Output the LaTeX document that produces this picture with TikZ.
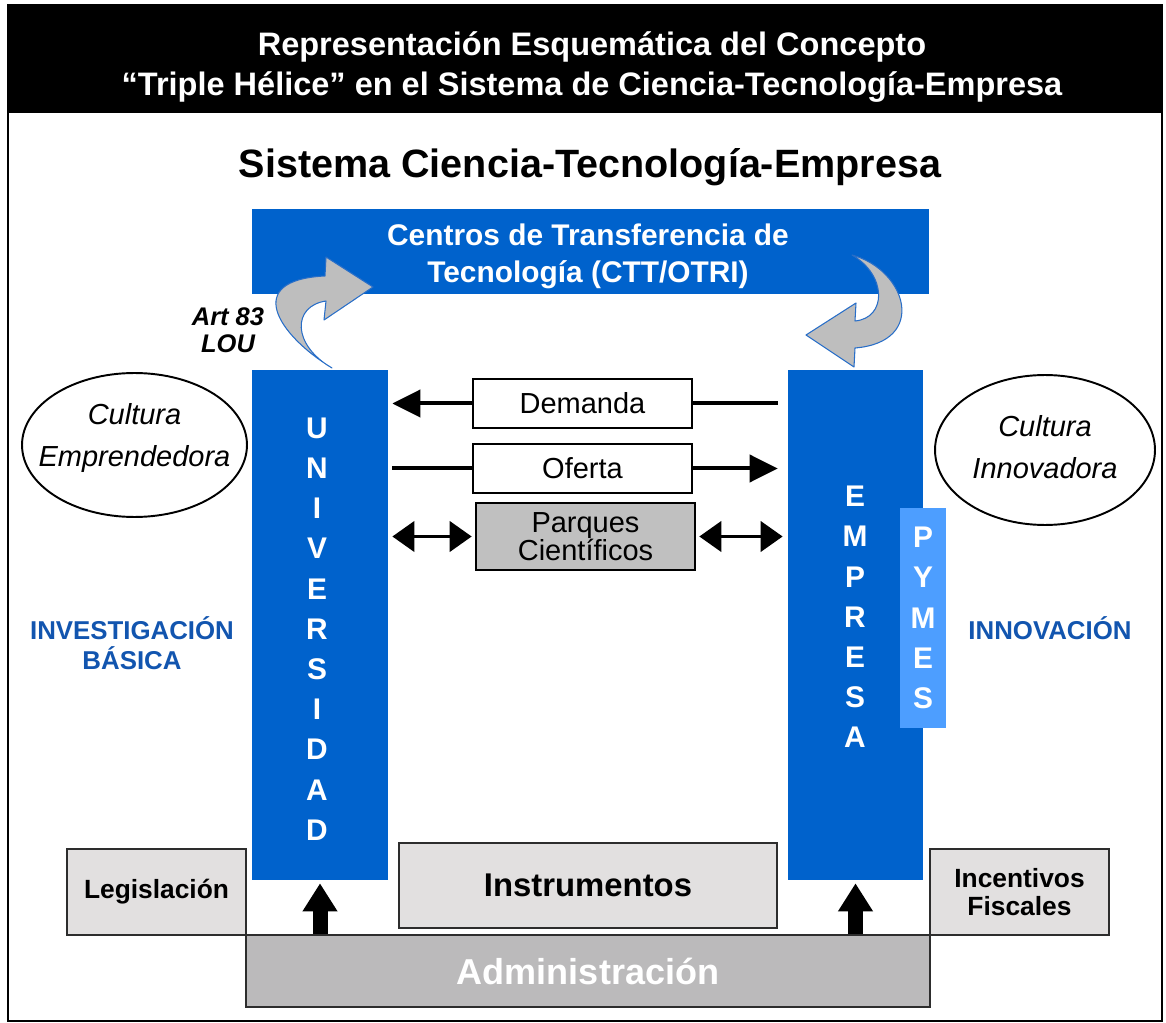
\documentclass[tikz,border=0pt]{standalone}
\usepackage{fontspec}
\setmainfont{Liberation Sans}
\usepackage{xcolor}
\usetikzlibrary{arrows.meta}
\definecolor{ctblue}{RGB}{0,98,204}
\definecolor{pymeblue}{RGB}{77,158,255}
\definecolor{labelblue}{RGB}{18,85,175}
\definecolor{boxgray}{RGB}{226,224,224}
\definecolor{admgray}{RGB}{187,186,187}
\definecolor{parkgray}{RGB}{192,192,192}
\definecolor{bordergray}{RGB}{45,45,45}
\definecolor{curlgray}{RGB}{190,190,190}
\definecolor{curlline}{RGB}{40,110,200}

\begin{document}
\begin{tikzpicture}[x=0.02cm, y=-0.02cm,
  bluebar/.style={fill=ctblue, draw=none, inner sep=0pt},
  vletters/.style={text=white, align=center, inner sep=0pt, font=\fontsize{17}{22.9}\selectfont\bfseries},
  culture/.style={align=center, inner sep=0pt, font=\fontsize{16.5}{23.8}\selectfont\itshape},
  oval/.style={line width=1.1pt},
  sidelabel/.style={text=labelblue, align=center, font=\fontsize{14.7}{17}\selectfont\bfseries},
  flowbox/.style={draw, line width=1.5pt, minimum width=4.38cm, inner sep=0pt, align=center, font=\fontsize{16.5}{16}\selectfont},
  flowline/.style={line width=0.08cm},
  headtip/.style={-{Triangle[length=0.56cm,width=0.54cm]}},
  bothtip/.style={{Triangle[length=0.44cm,width=0.6cm]}-{Triangle[length=0.44cm,width=0.6cm]}},
  graybox/.style={draw=bordergray, line width=1.1pt, fill=boxgray, inner sep=0pt, align=center, font=\fontsize{15}{16.4}\selectfont\bfseries},
  blockarrow/.style={line width=0.3cm, -{Triangle[length=0.56cm,width=0.66cm]}, shorten >=0.06cm},
  curl/.style={fill=curlgray, draw=curlline, line width=0.6pt, line join=round}]
  \useasboundingbox (0,0) rectangle (1166,1023);
  \fill[black] (8,5) rectangle (1162,113);
  \draw[line width=1.1pt] (8,5) rectangle (1162,1021);
  \node[text=white, align=center, font=\fontsize{18.5}{22.8}\selectfont\bfseries] (title) at (592,67) {Representación Esquemática del Concepto\\“Triple Hélice” en el Sistema de Ciencia-Tecnología-Empresa};
  \node[font=\fontsize{22.5}{27}\selectfont\bfseries] (system) at (590,167) {Sistema Ciencia-Tecnología-Empresa};
  \node[bluebar, minimum width=13.54cm, minimum height=1.7cm] (ctt) at (590.5,251.5) {};
  \node[text=white, align=center, font=\fontsize{17}{21}\selectfont\bfseries] (ctt-text) at (588,256) {Centros de Transferencia de\\Tecnología (CTT/OTRI)};
  \node[bluebar, minimum width=2.72cm, minimum height=10.2cm] (univ) at (320,625) {};
  \node[vletters] (univ-text) at (317,629) {U\\N\\I\\V\\E\\R\\S\\I\\D\\A\\D};
  \node[bluebar, minimum width=2.7cm, minimum height=10.2cm] (empresa) at (855.5,625) {};
  \node[vletters] (empresa-text) at (855,617) {E\\M\\P\\R\\E\\S\\A};
  \node[vletters, fill=pymeblue, minimum width=0.92cm, minimum height=4.4cm] (pymes) at (923,618) {P\\Y\\M\\E\\S};
  \draw[curl] (332,368) .. controls (278,335) and (242,280) .. (325,276) -- (326,257) -- (373,287) -- (324,320) -- (326,301) .. controls (292,306) and (292,345) .. (332,368) -- cycle;
  \draw[curl] (852,255) .. controls (907,270) and (928,342) .. (855,348) -- (854,367) -- (806,335) -- (856,303) -- (855,321) .. controls (887,318) and (887,275) .. (852,255) -- cycle;
  \node[align=center, font=\fontsize{14.5}{15.5}\selectfont\bfseries\itshape] (art) at (228,330) {Art 83\\LOU};
  \node[culture] (entre) at (134.5,438) {Cultura\\Emprendedora};
  \draw[oval] (134.5,445) ellipse [x radius=2.25cm, y radius=1.44cm];
  \node[culture] (innova) at (1045,447) {Cultura\\Innovadora};
  \draw[oval] (1045,450) ellipse [x radius=2.2cm, y radius=1.5cm];
  \node[sidelabel] (basic) at (132,643) {INVESTIGACIÓN\\BÁSICA};
  \node[sidelabel] (innov) at (1050,628) {INNOVACIÓN};
  \node[flowbox, fill=white, minimum height=0.98cm] (demanda) at (582.5,403.5) {Demanda};
  \node[flowbox, fill=white, minimum height=0.98cm] (oferta) at (582.5,468.5) {Oferta};
  \node[flowbox, fill=parkgray, minimum height=1.34cm] (parques) at (585.5,536.5) {Parques\\Científicos};
  \draw[flowline, headtip, shorten >=0.08cm] (demanda.west) -- (demanda.west -| univ.east);
  \draw[flowline, shorten >=0.2cm] (demanda.east) -- (demanda.east -| empresa.west);
  \draw[flowline, shorten <=0.08cm] (oferta.west -| univ.east) -- (oferta.west);
  \draw[flowline, headtip, shorten >=0.2cm] (oferta.east) -- (oferta.east -| empresa.west);
  \draw[flowline, bothtip, shorten <=0.08cm, shorten >=0.06cm] (parques.west -| univ.east) -- (parques.west);
  \draw[flowline, bothtip, shorten <=0.06cm, shorten >=0.1cm] (parques.east) -- (parques.east -| empresa.west);
  \node[graybox, fill=admgray, minimum width=13.68cm, minimum height=1.44cm, text=white, font=\fontsize{20.5}{24}\selectfont\bfseries] (admin) at (588,971) {Administración};
  \node[graybox, minimum width=3.58cm, minimum height=1.72cm] (legis) at (156.5,892) {Legislación};
  \node[graybox, minimum width=7.56cm, minimum height=1.7cm, font=\fontsize{18.7}{22}\selectfont\bfseries] (instr) at (588,885.5) {Instrumentos};
  \node[graybox, minimum width=3.58cm, minimum height=1.72cm] (fiscal) at (1019.5,892) {Incentivos\\Fiscales};
  \draw[blockarrow] (univ.south |- admin.north) -- (univ.south);
  \draw[blockarrow] (empresa.south |- admin.north) -- (empresa.south);
\end{tikzpicture}
\end{document}
